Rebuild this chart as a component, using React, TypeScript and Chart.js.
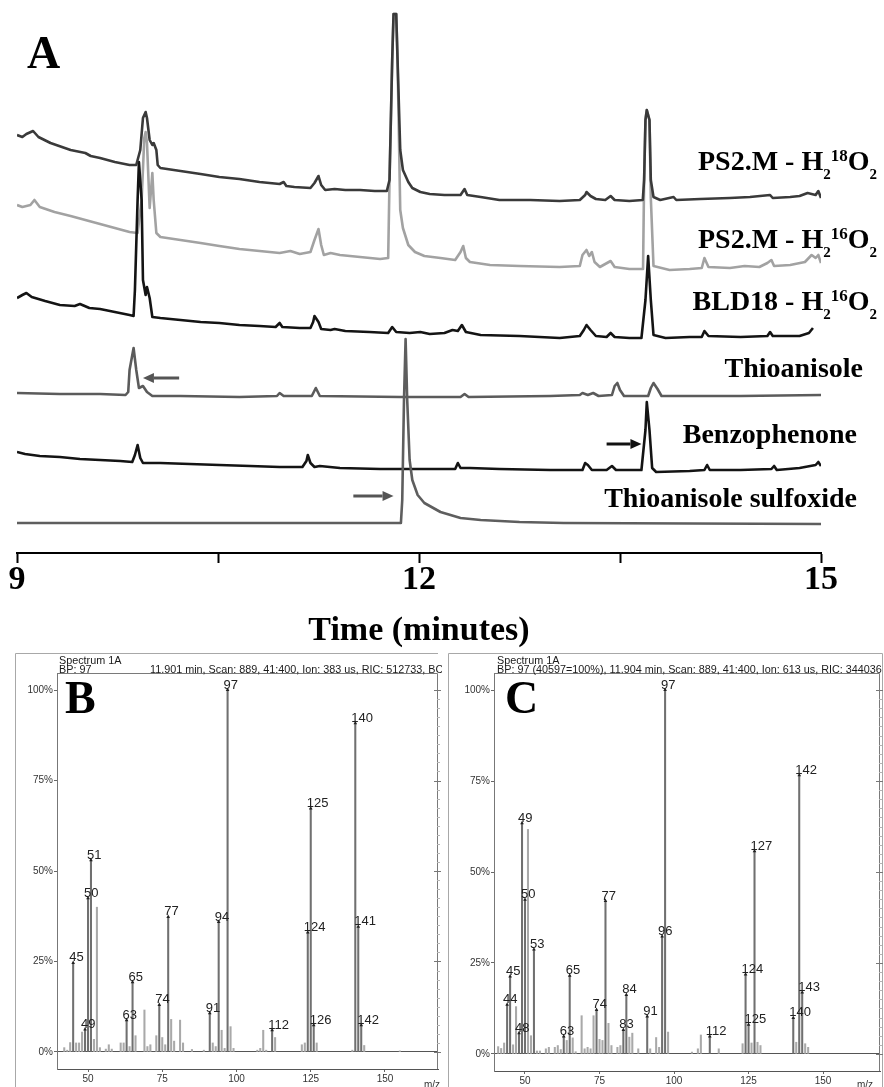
import React, { useEffect, useRef } from "react";
import { Chart, registerables } from "chart.js";

Chart.register(...registerables);

const SERIF = '"Liberation Serif", "Times New Roman", Times, serif';
const SANS = '"Liberation Sans", Arial, Helvetica, sans-serif';

// ================= Panel A: chromatograms =================
// time axis (minutes)
const timeMin = 9;
const timeMax = 15;
const timeTicks = [9, 10.5, 12, 13.5, 15];

// each trace: [time (min), signal above its own baseline (a.u.)]
const ps2m18O2: [number, number][] = [
  [9.0, 65], [9.04, 63], [9.07, 66], [9.12, 69], [9.16, 63], [9.25, 57], [9.4, 50], [9.51, 47], [9.55, 44],
  [9.62, 42], [9.73, 38], [9.84, 35], [9.89, 35], [9.92, 50], [9.94, 82], [9.96, 88], [9.97, 82], [9.99, 60],
  [10.01, 55], [10.02, 57], [10.04, 50], [10.05, 35], [10.07, 32], [10.22, 29], [10.37, 26], [10.51, 23],
  [10.66, 21], [10.81, 18], [10.96, 16], [10.99, 18], [11.01, 14], [11.07, 13], [11.19, 12], [11.22, 17],
  [11.25, 24], [11.27, 15], [11.3, 10], [11.37, 11], [11.45, 10], [11.56, 10], [11.67, 9], [11.76, 9],
  [11.78, 20], [11.8, 140], [11.81, 186], [11.83, 186], [11.84, 140], [11.86, 50], [11.88, 30], [11.92, 18],
  [11.95, 12], [12.01, 8], [12.08, 6], [12.19, 5], [12.31, 5], [12.34, 11], [12.36, 5], [12.46, 3], [12.6, 0],
  [12.83, 0], [13.05, -1], [13.2, 0], [13.24, 5], [13.25, 8], [13.28, 4], [13.32, 1], [13.39, 0], [13.43, 4],
  [13.46, 0], [13.57, -1], [13.67, 0], [13.68, 20], [13.69, 80], [13.7, 90], [13.72, 80], [13.73, 20],
  [13.75, 3], [13.8, 0], [13.9, 3], [13.92, 0], [14.1, 1], [14.32, 2], [14.47, 3], [14.62, 5], [14.64, 2],
  [14.77, 3], [14.84, 4], [14.9, 7], [14.96, 5], [14.98, 9], [15.0, 2],
];

const ps2m16O2: [number, number][] = [
  [9.0, 63], [9.04, 61], [9.1, 63], [9.13, 68], [9.17, 61], [9.28, 56], [9.4, 52], [9.51, 48], [9.62, 44],
  [9.73, 40], [9.84, 36], [9.9, 35], [9.93, 68], [9.95, 130], [9.96, 136], [9.97, 125], [9.99, 60], [10.01, 95],
  [10.02, 68], [10.04, 35], [10.07, 31], [10.22, 28], [10.37, 25], [10.51, 22], [10.66, 19], [10.81, 17],
  [10.96, 15], [11.04, 17], [11.11, 14], [11.19, 16], [11.22, 28], [11.25, 39], [11.27, 23], [11.29, 13],
  [11.34, 15], [11.41, 13], [11.56, 11], [11.71, 9], [11.77, 10], [11.78, 88], [11.8, 208], [11.81, 254],
  [11.83, 254], [11.84, 208], [11.86, 58], [11.88, 40], [11.92, 23], [11.97, 16], [12.04, 12], [12.16, 10],
  [12.27, 8], [12.31, 16], [12.33, 22], [12.35, 10], [12.38, 6], [12.53, 3], [12.75, 2], [13.05, 1], [13.2, 2],
  [13.22, 13], [13.25, 18], [13.27, 12], [13.29, 16], [13.31, 6], [13.35, 1], [13.43, 7], [13.46, 1],
  [13.57, -1], [13.672, -1], [13.68, 88], [13.69, 148], [13.7, 158], [13.72, 148], [13.73, 70], [13.75, 2],
  [13.87, -2], [14.02, -1], [14.11, 0], [14.13, 10], [14.16, 1], [14.32, 0], [14.43, 2], [14.54, 1], [14.6, 5],
  [14.63, 8], [14.65, 2], [14.77, 3], [14.88, 6], [14.93, 13], [14.96, 10], [14.98, 13], [15.0, 5],
];

const bld18H16O2: [number, number][] = [
  [9.0, 39], [9.04, 42], [9.07, 44], [9.11, 40], [9.21, 36], [9.32, 32], [9.43, 31], [9.47, 33], [9.54, 29],
  [9.62, 28], [9.73, 25], [9.84, 22], [9.87, 21], [9.88, 47], [9.9, 137], [9.91, 175], [9.93, 137], [9.94, 57],
  [9.96, 42], [9.97, 50], [9.99, 39], [10.01, 20], [10.07, 19], [10.22, 17], [10.37, 15], [10.51, 14],
  [10.66, 12], [10.81, 11], [10.93, 10], [10.96, 14], [10.98, 10], [11.11, 9], [11.19, 9], [11.21, 15],
  [11.22, 21], [11.25, 15], [11.27, 8], [11.34, 7], [11.37, 8], [11.45, 6], [11.63, 5], [11.77, 4], [11.8, 10],
  [11.83, 5], [11.93, 4], [12.01, 5], [12.08, 3], [12.19, 4], [12.25, 7], [12.29, 6], [12.32, 12], [12.35, 5],
  [12.46, 2], [12.75, 1], [13.05, -1], [13.2, 1], [13.23, 7], [13.25, 12], [13.28, 7], [13.32, 1], [13.4, 0],
  [13.43, 4], [13.46, 0], [13.57, -1], [13.66, -1], [13.69, 37], [13.71, 81], [13.73, 37], [13.75, 2],
  [13.84, -1], [14.02, 0], [14.11, 0], [14.13, 6], [14.16, 1], [14.4, 0], [14.6, 1], [14.62, 5], [14.64, 1],
  [14.84, 1], [14.91, 4], [14.94, 9],
];

const thioanisoleStd: [number, number][] = [
  [9.0, 3], [9.32, 2], [9.62, 2], [9.81, 1], [9.83, 4], [9.84, 26], [9.87, 48], [9.89, 26], [9.91, 8],
  [9.94, 10], [9.97, 4], [10.01, 0], [10.22, 0], [10.66, -1], [10.94, 0], [10.96, 3], [10.99, 0], [11.2, 0],
  [11.23, 8], [11.26, 0], [11.86, -1], [12.31, -1], [12.34, 2], [12.37, -1], [12.98, 0], [13.2, 1], [13.22, 3],
  [13.26, 1], [13.3, 3], [13.34, 0], [13.44, 1], [13.46, 10], [13.48, 13], [13.5, 6], [13.53, 0], [13.71, 0],
  [13.73, 8], [13.75, 13], [13.78, 7], [13.81, 0], [14.4, 0], [15.0, 1],
];

const benzophenoneStd: [number, number][] = [
  [9.0, 18], [9.06, 16], [9.17, 14], [9.32, 13], [9.47, 11], [9.62, 10], [9.77, 9], [9.86, 8], [9.88, 15],
  [9.9, 25], [9.92, 12], [9.94, 7], [10.07, 7], [10.29, 6], [10.51, 5], [10.74, 4], [10.96, 3], [11.13, 3],
  [11.16, 9], [11.17, 15], [11.19, 7], [11.22, 3], [11.26, 4], [11.41, 2], [11.71, 1], [12.01, 1], [12.27, 1],
  [12.29, 7], [12.31, 2], [12.38, 2], [12.6, 1], [12.98, 0], [13.22, 0], [13.24, 7], [13.26, 5], [13.29, 0],
  [13.4, 0], [13.44, 4], [13.47, 0], [13.66, 0], [13.69, 40], [13.7, 68], [13.72, 40], [13.74, 2], [13.77, -2],
  [14.02, -1], [14.13, 0], [14.15, 5], [14.17, 0], [14.4, 0], [14.63, 1], [14.65, 4], [14.67, 0], [14.84, 2],
  [14.96, 5], [14.98, 8], [15.0, 4],
];

const sulfoxideStd: [number, number][] = [
  [9.0, 1], [11.865, 1], [11.875, 24], [11.888, 124], [11.9, 185], [11.912, 124], [11.93, 64], [11.95, 44],
  [11.99, 29], [12.04, 21], [12.16, 12], [12.31, 6], [12.46, 4], [12.75, 2], [13.08, 1], [15.0, 0],
];

const traceNames = [
  "PS2.M - H2 18O2",
  "PS2.M - H2 16O2",
  "BLD18 - H2 16O2",
  "Thioanisole",
  "Benzophenone",
  "Thioanisole sulfoxide",
];
const traceSeries = [ps2m18O2, ps2m16O2, bld18H16O2, thioanisoleStd, benzophenoneStd, sulfoxideStd];
const traceOffsets = [353, 285, 216, 157, 83, 29];
const traceColors = ["#3a3a3a", "#a2a2a2", "#141414", "#5b5b5b", "#141414", "#5e5e5e"];
const traceDrawOrder = [0, 2, 1, 4, 5, 3];

// arrows marking standards (time from -> to, level in a.u.)
const arrowFrom = [10.21, 11.51, 13.4];
const arrowTo = [9.94, 11.81, 13.66];
const arrowLevel = [175, 57, 109];
const arrowColors = ["#555555", "#555555", "#111111"];

// trace label layout (canvas px)
type Part = [string, 0 | 1 | 2]; // 0 normal, 1 subscript, 2 superscript
const traceLabelParts: Part[][] = [
  [["PS2.M - H", 0], ["2", 1], ["18", 2], ["O", 0], ["2", 1]],
  [["PS2.M - H", 0], ["2", 1], ["16", 2], ["O", 0], ["2", 1]],
  [["BLD18 - H", 0], ["2", 1], ["16", 2], ["O", 0], ["2", 1]],
  [["Thioanisole", 0]],
  [["Benzophenone", 0]],
  [["Thioanisole sulfoxide", 0]],
];
const traceLabelRight = [877, 877, 877, 863, 857, 857];
const traceLabelBaseline = [170, 248, 310, 377, 443, 507];

const chromatogramDecor = {
  id: "chromatogramDecor",
  afterDraw(chart: any) {
    const { ctx } = chart;
    const xs = chart.scales.x;
    const ys = chart.scales.y;
    ctx.save();
    // arrows
    arrowFrom.forEach((from, i) => {
      const x0 = xs.getPixelForValue(from);
      const x1 = xs.getPixelForValue(arrowTo[i]);
      const y = ys.getPixelForValue(arrowLevel[i]);
      const dir = Math.sign(x1 - x0);
      const head = 11;
      const half = 5;
      ctx.strokeStyle = arrowColors[i];
      ctx.fillStyle = arrowColors[i];
      ctx.lineWidth = 3;
      ctx.beginPath();
      ctx.moveTo(x0, y);
      ctx.lineTo(x1 - dir * head, y);
      ctx.stroke();
      ctx.beginPath();
      ctx.moveTo(x1, y);
      ctx.lineTo(x1 - dir * head, y - half);
      ctx.lineTo(x1 - dir * head, y + half);
      ctx.closePath();
      ctx.fill();
    });
    // trace labels
    ctx.fillStyle = "#000";
    ctx.textBaseline = "alphabetic";
    ctx.textAlign = "left";
    const fontFor = (k: number) =>
      k === 0 ? `bold 28px ${SERIF}` : k === 1 ? `bold 15px ${SERIF}` : `bold 17px ${SERIF}`;
    const dyFor = (k: number) => (k === 0 ? 0 : k === 1 ? 9 : -9);
    traceLabelParts.forEach((parts, i) => {
      const widths = parts.map(([t, k]) => {
        ctx.font = fontFor(k);
        return ctx.measureText(t).width;
      });
      const total = widths.reduce((a, b) => a + b, 0);
      let x = traceLabelRight[i] - total;
      parts.forEach(([t, k], j) => {
        ctx.font = fontFor(k);
        ctx.fillText(t, x, traceLabelBaseline[i] + dyFor(k));
        x += widths[j];
      });
    });
    // panel letter
    ctx.font = `bold 46px ${SERIF}`;
    ctx.fillText("A", 27, 68);
    ctx.restore();
  },
};

function ChromatogramChart() {
  const ref = useRef<HTMLCanvasElement | null>(null);
  useEffect(() => {
    if (!ref.current) return;
    const datasets = traceSeries.map((series, i) => ({
      label: traceNames[i],
      data: series.map(([t, s]) => ({ x: t, y: traceOffsets[i] + s })),
      borderColor: traceColors[i],
      borderWidth: 2.6,
      pointRadius: 0,
      tension: 0,
      fill: false,
      borderJoinStyle: "round" as const,
      order: traceDrawOrder[i],
    }));
    const chart = new Chart(ref.current, {
      type: "line",
      data: { datasets },
      options: {
        animation: false,
        responsive: false,
        devicePixelRatio: 1,
        events: [],
        layout: { padding: { left: 17, right: 63, top: 0, bottom: 0 } },
        plugins: { legend: { display: false }, tooltip: { enabled: false } },
        scales: {
          x: {
            type: "linear",
            min: timeMin,
            max: timeMax,
            afterBuildTicks: (scale: any) => {
              scale.ticks = timeTicks.map((v) => ({ value: v }));
            },
            afterFit: (scale: any) => {
              scale.height = 97;
            },
            ticks: {
              callback: (v: any) => (Number(v) % 3 === 0 ? String(v) : ""),
              autoSkip: false,
              maxRotation: 0,
              minRotation: 0,
              padding: 0,
              color: "#000",
              font: { family: SERIF, weight: "bold", size: 34, lineHeight: 1 },
            },
            grid: {
              display: true,
              drawOnChartArea: false,
              drawTicks: true,
              tickLength: 10,
              tickColor: "#000",
              tickWidth: 2,
            },
            border: { display: true, color: "#000", width: 2 },
            title: {
              display: true,
              text: "Time (minutes)",
              color: "#000",
              font: { family: SERIF, weight: "bold", size: 34, lineHeight: 1.1 },
              padding: { top: 0, bottom: 0 },
            },
          },
          y: { display: false, min: 0, max: 553 },
        },
      } as any,
      plugins: [chromatogramDecor],
    });
    return () => chart.destroy();
  }, []);
  return <canvas ref={ref} width={884} height={650} style={{ position: "absolute", left: 0, top: 0 }} />;
}

// ================= Panels B and C: mass spectra =================
const mzTicks = [50, 75, 100, 125, 150];
const percentTicks = [0, 25, 50, 75, 100];

const bMz = [42, 43, 44, 45, 46, 47, 48, 49, 50, 51, 52, 53, 54, 56, 57, 58, 61, 62, 63, 64, 65, 66, 69, 70, 71, 73, 74, 75, 76, 77, 78, 79, 81, 82, 85, 89, 91, 92, 93, 94, 95, 96, 97, 98, 99, 107, 108, 109, 110, 112, 113, 122, 123, 124, 125, 126, 127, 139, 140, 141, 142, 143, 155];
const bIntensity = [1.2, 0.5, 2.6, 24.6, 2.5, 2.5, 5.5, 6.2, 42.5, 53, 3.5, 40, 1.2, 0.8, 2, 0.8, 2.5, 2.5, 8.8, 1.5, 19.3, 4.5, 11.6, 1.5, 2, 4.5, 13, 4, 2, 37.3, 9, 3, 8.8, 2.5, 0.7, 0.5, 10.7, 2.5, 1.5, 35.9, 6, 1, 100, 7, 1, 0.5, 1, 6, 0.5, 6, 4, 2, 2.5, 33, 67.3, 7.4, 2.5, 0.5, 90.8, 34.6, 7.4, 1.8, 0.3];
const bLabeledMz = [45, 49, 50, 51, 63, 65, 74, 77, 91, 94, 97, 112, 124, 125, 126, 140, 141, 142];

const cMz = [41, 42, 43, 44, 45, 46, 47, 48, 49, 50, 51, 52, 53, 54, 55, 57, 58, 60, 61, 62, 63, 64, 65, 66, 67, 69, 70, 71, 72, 73, 74, 75, 76, 77, 78, 79, 81, 82, 83, 84, 85, 86, 88, 91, 92, 94, 95, 96, 97, 98, 106, 108, 109, 112, 115, 123, 124, 125, 126, 127, 128, 129, 140, 141, 142, 143, 144, 145];
const cIntensity = [2, 1.5, 3, 13.5, 21.3, 2.5, 13, 5.7, 63.4, 42.4, 61.7, 5, 28.7, 0.8, 0.8, 1.4, 1.8, 1.8, 2.3, 1.2, 4.8, 3.7, 21.5, 4.4, 0.6, 10.5, 1.4, 1.8, 1.4, 10.5, 12.1, 4, 3.7, 42, 8.4, 2.3, 1.8, 2.3, 6.6, 16.2, 4.6, 5.7, 1.4, 10.3, 1.4, 4.5, 1.8, 32.3, 100, 6, 0.5, 1.4, 5.2, 4.8, 1.4, 2.8, 21.8, 8, 3, 55.7, 3.2, 2.3, 9.9, 3.2, 76.6, 16.9, 2.8, 1.8];
const cLabeledMz = [44, 45, 48, 49, 50, 53, 63, 65, 74, 77, 83, 84, 91, 96, 97, 112, 124, 125, 127, 140, 142, 143];

type SpectrumConfig = {
  letter: string;
  mz: number[];
  intensity: number[];
  labeled: number[];
  mzMin: number;
  mzMax: number;
  pageLeft: number;
  width: number;
  plotLeft: number; // canvas px
  plotRightPad: number;
  axisHeight: number;
  frameLeft: number | null;
  frameRight: number | null;
  header1: string;
  header2: string;
  header2b: string;
  header2bX: number;
  headerX: number;
  letterX: number;
  mzLabelRight: number;
};

const spectrumB: SpectrumConfig = {
  letter: "B",
  mz: bMz,
  intensity: bIntensity,
  labeled: bLabeledMz,
  mzMin: 39.56,
  mzMax: 167.85,
  pageLeft: 0,
  width: 442,
  plotLeft: 57,
  plotRightPad: 4,
  axisHeight: 18,
  frameLeft: 15,
  frameRight: null,
  header1: "Spectrum 1A",
  header2: "BP: 97",
  header2b: "11.901 min, Scan: 889, 41:400, Ion: 383 us, RIC: 512733, BC",
  header2bX: 150,
  headerX: 59,
  letterX: 65,
  mzLabelRight: 440,
};

const spectrumC: SpectrumConfig = {
  letter: "C",
  mz: cMz,
  intensity: cIntensity,
  labeled: cLabeledMz,
  mzMin: 39.6,
  mzMax: 169.1,
  pageLeft: 442,
  width: 442,
  plotLeft: 52,
  plotRightPad: 4,
  axisHeight: 16,
  frameLeft: 6,
  frameRight: 441,
  header1: "Spectrum 1A",
  header2: "BP: 97 (40597=100%), 11.904 min, Scan: 889, 41:400, Ion: 613 us, RIC: 344036",
  header2b: "",
  header2bX: 0,
  headerX: 55,
  letterX: 63,
  mzLabelRight: 431,
};

function makeSpectrumDecor(cfg: SpectrumConfig) {
  return {
    id: "spectrumDecor" + cfg.letter,
    afterDraw(chart: any) {
      const { ctx, chartArea: a } = chart;
      const xs = chart.scales.x;
      const ys = chart.scales.y;
      const H = chart.height;
      ctx.save();
      // outer frame
      ctx.strokeStyle = "#a8a8a8";
      ctx.lineWidth = 1;
      ctx.beginPath();
      const fl = cfg.frameLeft;
      const fr = cfg.frameRight;
      if (fl !== null) {
        ctx.moveTo(fl + 0.5, H);
        ctx.lineTo(fl + 0.5, 1.5);
      } else {
        ctx.moveTo(0, 1.5);
      }
      ctx.lineTo(fr !== null ? fr - 0.5 : a.right, 1.5);
      if (fr !== null) ctx.lineTo(fr - 0.5, H);
      ctx.stroke();
      // plot box
      ctx.strokeStyle = "#7a7a7a";
      ctx.beginPath();
      ctx.moveTo(a.left + 0.5, a.top + 0.5);
      ctx.lineTo(a.right - 0.5, a.top + 0.5);
      ctx.lineTo(a.right - 0.5, a.bottom);
      ctx.stroke();
      // right border ticks
      for (let v = 0; v <= 100.01; v += 2.5) {
        const y = Math.round(ys.getPixelForValue(v)) + 0.5;
        const major = Math.abs(v % 25) < 0.01;
        ctx.strokeStyle = major ? "#777" : "#b5b5b5";
        ctx.beginPath();
        ctx.moveTo(a.right - (major ? 4 : 1), y);
        ctx.lineTo(a.right + (major ? 3 : 2), y);
        ctx.stroke();
      }
      // header
      ctx.fillStyle = "#1a1a1a";
      ctx.textAlign = "left";
      ctx.textBaseline = "alphabetic";
      ctx.font = `10.8px ${SANS}`;
      ctx.fillText(cfg.header1, cfg.headerX, 11.5);
      ctx.fillText(cfg.header2, cfg.headerX, 20.5);
      if (cfg.header2b) ctx.fillText(cfg.header2b, cfg.header2bX, 20.5);
      // panel letter
      ctx.fillStyle = "#000";
      ctx.font = `bold 46px ${SERIF}`;
      ctx.fillText(cfg.letter, cfg.letterX, 61);
      // peak labels
      ctx.font = `13px ${SANS}`;
      ctx.fillStyle = "#222";
      cfg.labeled.forEach((m) => {
        const i = cfg.mz.indexOf(m);
        if (i < 0) return;
        const x = xs.getPixelForValue(m);
        const y = ys.getPixelForValue(cfg.intensity[i]);
        ctx.fillText(String(m), x - 4, y - 1.5);
        ctx.beginPath();
        ctx.moveTo(x, y - 2.5);
        ctx.lineTo(x - 1.8, y + 1);
        ctx.lineTo(x + 1.8, y + 1);
        ctx.closePath();
        ctx.fill();
      });
      // m/z
      ctx.font = `10px ${SANS}`;
      ctx.fillStyle = "#333";
      ctx.textAlign = "right";
      ctx.fillText("m/z", cfg.mzLabelRight, H + 1);
      ctx.restore();
    },
  };
}

function SpectrumChart({ cfg }: { cfg: SpectrumConfig }) {
  const ref = useRef<HTMLCanvasElement | null>(null);
  useEffect(() => {
    if (!ref.current) return;
    const labeledSet = new Set(cfg.labeled);
    const points = cfg.mz.map((m, i) => ({ x: m, y: cfg.intensity[i] }));
    const strong = points.filter((p) => labeledSet.has(p.x));
    const weak = points.filter((p) => !labeledSet.has(p.x));
    const chart = new Chart(ref.current, {
      type: "bar",
      data: {
        datasets: [
          {
            label: "labelled ions",
            data: strong,
            backgroundColor: "#707070",
            barThickness: 1.4,
            grouped: false,
            order: 0,
          },
          {
            label: "other ions",
            data: weak,
            backgroundColor: "#a9a9a9",
            barThickness: 1.4,
            grouped: false,
            order: 1,
          },
        ],
      },
      options: {
        animation: false,
        responsive: false,
        devicePixelRatio: 1,
        events: [],
        layout: { padding: { left: 0, right: cfg.plotRightPad, top: 21, bottom: 0 } },
        plugins: { legend: { display: false }, tooltip: { enabled: false } },
        scales: {
          x: {
            type: "linear",
            min: cfg.mzMin,
            max: cfg.mzMax,
            offset: false,
            afterBuildTicks: (scale: any) => {
              scale.ticks = mzTicks.map((v) => ({ value: v }));
            },
            afterFit: (scale: any) => {
              scale.height = cfg.axisHeight;
            },
            ticks: {
              autoSkip: false,
              maxRotation: 0,
              padding: 1,
              color: "#333",
              font: { family: SANS, size: 10 },
            },
            grid: {
              offset: false,
              drawOnChartArea: false,
              drawTicks: true,
              tickLength: 3,
              tickColor: "#666",
            },
            border: { display: true, color: "#555", width: 1 },
          },
          y: {
            type: "linear",
            min: -4.7,
            max: 104.7,
            afterBuildTicks: (scale: any) => {
              scale.ticks = percentTicks.map((v) => ({ value: v }));
            },
            afterFit: (scale: any) => {
              scale.width = cfg.plotLeft;
            },
            ticks: {
              callback: (v: any) => `${v}%`,
              padding: 1,
              color: "#333",
              font: { family: SANS, size: 10 },
            },
            grid: {
              drawOnChartArea: true,
              drawTicks: true,
              tickLength: 3,
              tickColor: "#666",
              color: (c: any) => (c.tick && c.tick.value === 0 ? "#555" : "rgba(0,0,0,0)"),
            },
            border: { display: true, color: "#777", width: 1 },
          },
        },
      } as any,
      plugins: [makeSpectrumDecor(cfg)],
    });
    return () => chart.destroy();
  }, [cfg]);
  return (
    <canvas
      ref={ref}
      width={cfg.width}
      height={435}
      style={{ position: "absolute", left: cfg.pageLeft, top: 652 }}
    />
  );
}

export default function App() {
  return (
    <div
      style={{
        position: "absolute",
        left: 0,
        top: 0,
        width: 884,
        height: 1087,
        background: "#fff",
        overflow: "hidden",
      }}
    >
      <ChromatogramChart />
      <SpectrumChart cfg={spectrumB} />
      <SpectrumChart cfg={spectrumC} />
    </div>
  );
}
